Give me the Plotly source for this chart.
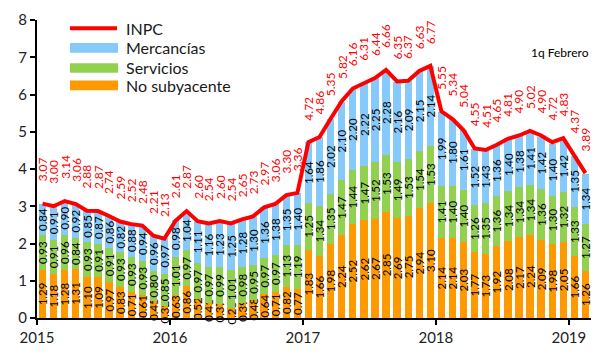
import plotly.graph_objects as go

# Monthly contributions to annual inflation, Jan 2015 - Feb 2019 (1q Feb)
years = ["2015", "2016", "2017", "2018", "2019"]

inpc = [3.07, 3.00, 3.14, 3.06, 2.88, 2.87, 2.74, 2.59, 2.52, 2.48, 2.21, 2.13,
        2.61, 2.87, 2.60, 2.54, 2.60, 2.54, 2.65, 2.73, 2.97, 3.06, 3.30, 3.36,
        4.72, 4.86, 5.35, 5.82, 6.16, 6.31, 6.44, 6.66, 6.35, 6.37, 6.63, 6.77,
        5.55, 5.34, 5.04, 4.55, 4.51, 4.65, 4.81, 4.90, 5.02, 4.90, 4.72, 4.83,
        4.37, 3.89]

no_subyacente = [1.29, 1.18, 1.28, 1.31, 1.10, 1.09, 0.97, 0.83, 0.71, 0.61, 0.45, 0.32,
                 0.63, 0.86, 0.52, 0.41, 0.37, 0.28, 0.39, 0.48, 0.64, 0.71, 0.82, 0.77,
                 1.83, 1.66, 1.98, 2.24, 2.52, 2.62, 2.67, 2.85, 2.69, 2.75, 2.94, 3.10,
                 2.14, 2.14, 2.03, 1.77, 1.73, 1.92, 2.08, 2.17, 2.24, 2.09, 1.98, 2.05,
                 1.66, 1.26]

servicios = [0.93, 0.91, 0.96, 0.84, 0.93, 0.91, 0.91, 0.93, 0.93, 0.93, 0.80, 0.85,
             1.01, 0.97, 0.97, 0.97, 0.99, 1.01, 0.98, 0.95, 0.97, 0.97, 1.13, 1.19,
             1.25, 1.34, 1.35, 1.47, 1.44, 1.47, 1.52, 1.53, 1.49, 1.53, 1.54, 1.53,
             1.41, 1.40, 1.40, 1.26, 1.35, 1.36, 1.34, 1.34, 1.34, 1.36, 1.30, 1.32,
             1.33, 1.27]

mercancias = [0.84, 0.91, 0.90, 0.92, 0.85, 0.87, 0.86, 0.82, 0.88, 0.94, 0.96, 0.97,
              0.98, 1.04, 1.11, 1.16, 1.23, 1.25, 1.28, 1.30, 1.36, 1.38, 1.35, 1.40,
              1.64, 1.86, 2.02, 2.10, 2.20, 2.22, 2.25, 2.28, 2.16, 2.09, 2.15, 2.14,
              1.99, 1.80, 1.61, 1.52, 1.43, 1.36, 1.40, 1.38, 1.41, 1.42, 1.40, 1.42,
              1.35, 1.34]

RED = "#FF0000"
ORANGE = "#FF9900"
GREEN = "#92D050"
BLUE = "#86C9FB"
FONT = "Lato"

x = [i + 0.5 for i in range(len(inpc))]

fig = go.Figure()


def add_bar(name, vals, color):
    fig.add_trace(go.Bar(
        x=x, y=vals, name=name, width=0.66,
        marker=dict(color=color, line=dict(width=0)),
        text=[f"{v:.2f}" for v in vals],
        textposition="inside", insidetextanchor="middle",
        textangle=-90, constraintext="none",
        textfont=dict(family=FONT, size=11.5, color="#000000"),
        cliponaxis=False, showlegend=False,
    ))


add_bar("No subyacente", no_subyacente, ORANGE)
add_bar("Servicios", servicios, GREEN)
add_bar("Mercancías", mercancias, BLUE)

fig.add_trace(go.Scatter(
    x=x, y=inpc, mode="lines", name="INPC",
    line=dict(color=RED, width=4), showlegend=False,
))

annotations = []
for xi, v in zip(x, inpc):
    annotations.append(dict(
        x=xi, y=v, xref="x", yref="y", text=f"{v:.2f}", showarrow=False,
        textangle=-90, xanchor="center", yanchor="bottom", yshift=20,
        font=dict(family=FONT, size=12, color=RED),
    ))

# Hand-drawn legend (wide swatches)
L, R_, T, B = 37, 591, 16, 326
W, H = R_ - L, B - T


def px(xp):
    return (xp - L) / W


def py(yp):
    return (B - yp) / H


shapes = [
    dict(type="line", xref="paper", yref="paper", x0=px(70), x1=px(117),
         y0=py(24.5), y1=py(24.5), line=dict(color=RED, width=4)),
]
for (y0, y1, c) in [(40, 50, BLUE), (61, 71, GREEN), (79, 89, ORANGE)]:
    shapes.append(dict(type="rect", xref="paper", yref="paper",
                       x0=px(70), x1=px(118), y0=py(y1), y1=py(y0),
                       fillcolor=c, line=dict(width=0)))

for label, yc in [("INPC", 25), ("Mercancías", 45), ("Servicios", 65), ("No subyacente", 84)]:
    annotations.append(dict(
        x=px(124), y=py(yc), xref="paper", yref="paper", text=label,
        showarrow=False, xanchor="left", yanchor="middle",
        font=dict(family=FONT, size=16, color="#1a1a1a"),
    ))

annotations.append(dict(
    x=px(560), y=py(50), xref="paper", yref="paper", text="1q Febrero",
    showarrow=False, xanchor="center", yanchor="middle",
    font=dict(family=FONT, size=12, color="#000000"),
))

fig.update_layout(
    width=601, height=356,
    margin=dict(l=L, r=601 - R_, t=T, b=356 - B, pad=0),
    paper_bgcolor="white", plot_bgcolor="white",
    barmode="stack", bargap=0,
    showlegend=False,
    shapes=shapes, annotations=annotations,
    font=dict(family=FONT, color="#222222"),
)
fig.update_xaxes(
    range=[0, 50], tickvals=[0, 12, 24, 36, 48], ticktext=years,
    showgrid=False, zeroline=False, showline=True, linecolor="#000000", linewidth=2,
    ticks="outside", ticklen=5, tickwidth=1.5, tickcolor="#000000",
    tickfont=dict(family=FONT, size=15, color="#222222"),
)
fig.update_yaxes(
    range=[0, 8], tickvals=list(range(0, 9)),
    showgrid=False, zeroline=False, showline=True, linecolor="#000000", linewidth=2,
    ticks="outside", ticklen=5, tickwidth=1.5, tickcolor="#000000",
    tickfont=dict(family=FONT, size=15, color="#222222"),
)

fig.write_html("out.html")
